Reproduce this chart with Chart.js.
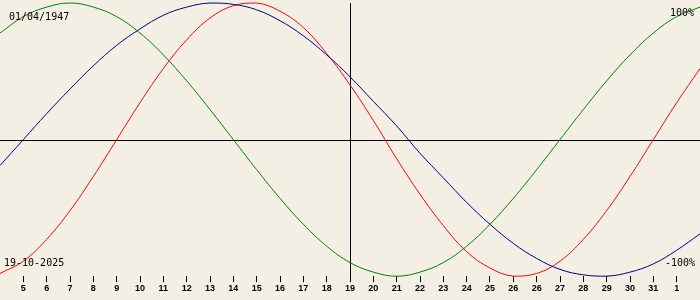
<!DOCTYPE html>
<html lang="en">
<head>
<meta charset="UTF-8">
<title>Biorhythm</title>
<style>
    html, body { margin: 0; padding: 0; background: #f3efe4; }
    #wrap { width: 700px; height: 300px; position: relative; }
</style>
</head>
<body>
<div id="wrap"><canvas id="bioChart"></canvas></div>

<script src="https://cdn.jsdelivr.net/npm/chart.js"></script>
<script>
// Corner captions
const birthDate = "01/04/1947";
const todayDate = "19-10-2025";
const topLabel = "100%";
const bottomLabel = "-100%";

// Day labels under the ticks (ticks sit at day offsets 1..29, today = offset 15)
const tickLabels = ["5", "6", "7", "8", "9", "10", "11", "12", "13", "14", "15", "16", "17", "18", "19",
    "20", "21", "22", "23", "24", "25", "26", "26", "27", "28", "29", "30", "31", "1"];
const todayOffset = 15;

// Daily values in %, offsets 0..30 (left edge to right edge)
const physical = [-98, -89, -73, -52, -27, 0, 27, 52, 73, 89, 98, 100, 94, 82, 63, 40,
    14, -14, -40, -63, -82, -94, -100, -98, -89, -73, -52, -27, 0, 27, 52];
const emotional = [78, 90, 97, 100, 97, 90, 78, 62, 43, 22, 0, -22, -43, -62, -78, -90,
    -97, -100, -97, -90, -78, -62, -43, -22, 0, 22, 43, 62, 78, 90, 97];
const intellectual = [-19, 0, 19, 37, 54, 69, 81, 91, 97, 100, 99, 95, 87, 76, 62, 46,
    28, 10, -10, -28, -46, -62, -76, -87, -95, -99, -100, -97, -91, -81, -69];

const toPoints = arr => arr.map((v, i) => ({ x: i, y: v }));

// zero line + captions
const overlay = {
    id: "overlay",
    beforeDatasetsDraw(chart) {
        const { ctx, chartArea, scales } = chart;
        const y0 = Math.round(scales.y.getPixelForValue(0)) + 0.5;
        ctx.save();
        ctx.strokeStyle = "#000";
        ctx.lineWidth = 1;
        ctx.beginPath();
        ctx.moveTo(chartArea.left, y0);
        ctx.lineTo(chartArea.right, y0);
        ctx.stroke();
        ctx.restore();
    },
    afterDraw(chart) {
        const ctx = chart.ctx;
        ctx.save();
        ctx.fillStyle = "#000";
        ctx.font = "10px 'DejaVu Sans Mono'";
        ctx.textBaseline = "alphabetic";
        ctx.textAlign = "left";
        ctx.fillText(birthDate, 9, 20);
        ctx.fillText(todayDate, 4, 266);
        ctx.textAlign = "right";
        ctx.fillText(topLabel, 694, 16);
        ctx.fillText(bottomLabel, 695, 266);
        ctx.restore();
    }
};

const line = (data, color) => ({
    data: toPoints(data),
    borderColor: color,
    borderWidth: 1,
    pointRadius: 0,
    fill: false,
    tension: 0.4,
    clip: false
});

new Chart(document.getElementById("bioChart"), {
    type: "line",
    data: {
        datasets: [
            line(emotional, "#008000"),
            line(intellectual, "#000080"),
            line(physical, "#ff0000")
        ]
    },
    options: {
        responsive: true,
        maintainAspectRatio: false,
        animation: false,
        events: [],
        layout: { padding: { top: 3, left: 0, right: 0, bottom: 5 } },
        plugins: { legend: { display: false }, tooltip: { enabled: false } },
        scales: {
            x: {
                type: "linear",
                min: 0,
                max: 30,
                afterBuildTicks: scale => {
                    scale.ticks = tickLabels.map((_, i) => ({ value: i + 1 }));
                },
                ticks: {
                    autoSkip: false,
                    maxRotation: 0,
                    padding: 1,
                    color: "#000",
                    font: { family: "'Liberation Sans'", size: 9, weight: "bold" },
                    callback: (value, index) => tickLabels[index]
                },
                grid: {
                    color: c => (c.tick && c.tick.value === todayOffset) ? "#000" : "rgba(0,0,0,0)",
                    tickColor: "#000",
                    tickLength: 6,
                    lineWidth: 1
                },
                border: { display: false }
            },
            y: {
                display: false,
                min: -100,
                max: 100
            }
        }
    },
    plugins: [overlay]
});
</script>
</body>
</html>
